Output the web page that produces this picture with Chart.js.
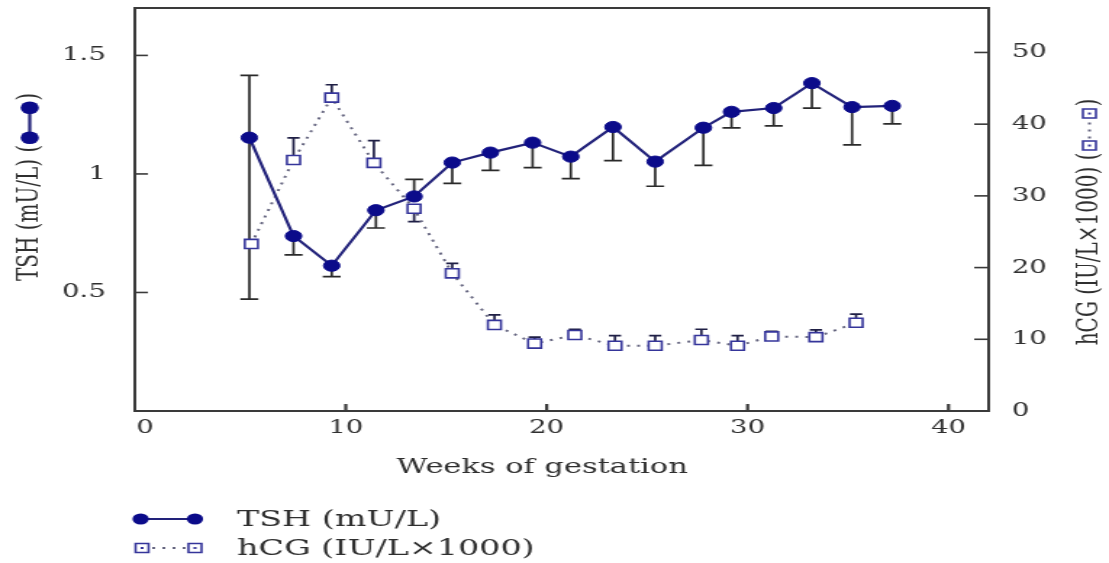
<!DOCTYPE html>
<html><head><meta charset="utf-8">
<script src="https://cdn.jsdelivr.net/npm/chart.js@4.4.0/dist/chart.umd.min.js"></script>
<style>
html,body{margin:0;padding:0;background:#fff;overflow:hidden;}
#c{display:block;}
</style></head><body>
<canvas id="c" width="765" height="563" style="width:1109px;height:563px"></canvas>
<script>
// ---- data ----
const tshWeeks  = [5.2, 7.4, 9.3, 11.5, 13.4, 15.3, 17.2, 19.3, 21.2, 23.3, 25.4, 27.8, 29.2, 31.3, 33.2, 35.2, 37.2];
const tshValues = [1.153, 0.738, 0.613, 0.847, 0.905, 1.048, 1.09, 1.132, 1.073, 1.198, 1.052, 1.195, 1.262, 1.278, 1.383, 1.282, 1.287];
const tshLower  = [0.472, 0.659, 0.567, 0.772, null, 0.96, 1.015, 1.027, 0.98, 1.056, 0.948, 1.036, 1.194, 1.203, 1.278, 1.123, 1.211];
const tshUpper  = [1.416, null, null, null, 0.977, null, null, null, null, null, null, null, null, null, null, null, null];

const hcgWeeks  = [5.3, 7.4, 9.3, 11.4, 13.4, 15.3, 17.4, 19.4, 21.4, 23.4, 25.4, 27.7, 29.5, 31.2, 33.4, 35.4];
const hcgValues = [23.3, 35.0, 43.7, 34.6, 28.2, 19.2, 12.0, 9.4, 10.6, 9.1, 9.1, 9.9, 9.1, 10.4, 10.3, 12.3];
const hcgUpper  = [null, 38.1, 45.5, 37.7, null, 20.6, 13.4, 10.3, 11.4, 10.5, 10.5, 11.4, 10.5, 11.1, 11.3, 13.5];
const hcgLower  = [null, null, null, null, 26.4, null, null, null, null, null, null, null, null, null, null, null];

const xTickValues    = [0, 10, 20, 30, 40];
const tshTickValues  = [0.5, 1, 1.5];
const hcgTickValues  = [0, 10, 20, 30, 40, 50];

const tshLabel = 'TSH (mU/L)';
const hcgLabel = 'hCG (IU/L\u00d71000)';
const xTitle   = 'Weeks of gestation';

// ---- styles ----
const FONT = "'DejaVu Serif', serif";
const TEXT = '#2f2f2f';
const AXIS = '#3a3a3a';
const TSH_FILL = '#0b0b8a';
const TSH_LINE = '#22227a';
const HCG_EDGE = '#35359a';
const HCG_LINE = '#666680';

Chart.defaults.font.family = FONT;
Chart.defaults.color = TEXT;

function drawTshSymbol(ctx, x0, x1, y, r) {
  ctx.save();
  ctx.strokeStyle = TSH_LINE; ctx.lineWidth = 2.2;
  ctx.beginPath(); ctx.moveTo(x0, y); ctx.lineTo(x1, y); ctx.stroke();
  ctx.fillStyle = TSH_FILL;
  [x0, x1].forEach(px => { ctx.beginPath(); ctx.arc(px, y, r, 0, Math.PI * 2); ctx.fill(); });
  ctx.restore();
}
function drawHcgSymbol(ctx, x0, x1, y, h) {
  ctx.save();
  ctx.strokeStyle = HCG_LINE; ctx.lineWidth = 2; ctx.setLineDash([2, 5]);
  ctx.beginPath(); ctx.moveTo(x0, y); ctx.lineTo(x1, y); ctx.stroke();
  ctx.setLineDash([]);
  ctx.strokeStyle = HCG_EDGE; ctx.lineWidth = 1.6; ctx.fillStyle = '#fff';
  [x0, x1].forEach(px => { ctx.beginPath(); ctx.rect(px - h, y - h, 2 * h, 2 * h); ctx.fill(); ctx.stroke(); });
  ctx.fillStyle = HCG_EDGE;
  [x0, x1].forEach(px => { ctx.fillRect(px - 1, y - 1, 2, 2); });
  ctx.restore();
}

const errorBars = {
  id: 'errorBars',
  beforeDatasetsDraw(chart) {
    const {ctx, scales} = chart;
    const sets = [
      {w: tshWeeks, v: tshValues, bounds: [tshLower, tshUpper], axis: scales.y, half: 6.2, color: '#2a2a2a'},
      {w: hcgWeeks, v: hcgValues, bounds: [hcgLower, hcgUpper], axis: scales.y1, half: 4.2, color: '#1f1f45'}
    ];
    ctx.save();
    ctx.lineWidth = 1.7;
    sets.forEach(s => {
      ctx.strokeStyle = s.color;
      s.w.forEach((wk, i) => {
        const px = scales.x.getPixelForValue(wk);
        const p0 = s.axis.getPixelForValue(s.v[i]);
        s.bounds.forEach(arr => {
          if (arr[i] == null) return;
          const p1 = s.axis.getPixelForValue(arr[i]);
          ctx.beginPath();
          ctx.moveTo(px, p0); ctx.lineTo(px, p1);
          ctx.moveTo(px - s.half, p1); ctx.lineTo(px + s.half, p1);
          ctx.stroke();
        });
      });
    });
    ctx.restore();
  }
};

const decorations = {
  id: 'decorations',
  afterDraw(chart) {
    const {ctx, chartArea: a, scales} = chart;
    ctx.save();
    // top frame line
    ctx.strokeStyle = AXIS; ctx.lineWidth = 2;
    ctx.beginPath(); ctx.moveTo(a.left - 1, a.top); ctx.lineTo(a.right + 1, a.top); ctx.stroke();
    // inward tick marks
    ctx.lineWidth = 1.6;
    scales.y.ticks.forEach(t => {
      if (t.value === 0) return;
      const py = scales.y.getPixelForValue(t.value);
      ctx.beginPath(); ctx.moveTo(a.left, py); ctx.lineTo(a.left + 9, py); ctx.stroke();
    });
    scales.y1.ticks.forEach(t => {
      if (t.value === 0) return;
      const py = scales.y1.getPixelForValue(t.value);
      ctx.beginPath(); ctx.moveTo(a.right, py); ctx.lineTo(a.right - 10, py); ctx.stroke();
    });
    ctx.lineWidth = 2.2;
    scales.x.ticks.forEach(t => {
      if (t.value === 0) return;
      const px = scales.x.getPixelForValue(t.value);
      ctx.beginPath(); ctx.moveTo(px, a.bottom); ctx.lineTo(px, a.bottom - 7); ctx.stroke();
    });

    // x axis title
    ctx.fillStyle = TEXT;
    ctx.font = "21px " + FONT;
    ctx.textAlign = 'center'; ctx.textBaseline = 'middle';
    ctx.fillText(xTitle, 374, 468);

    // left axis title (rotated) with symbol
    ctx.font = "20px " + FONT;
    ctx.textAlign = 'left';
    {
      const p1 = tshLabel + ' (', p2 = ')';
      const w1 = ctx.measureText(p1).width, w2 = ctx.measureText(p2).width;
      const sym = 44;
      const L = w1 + sym + w2;
      ctx.save();
      ctx.translate(20.5, 187);
      ctx.rotate(-Math.PI / 2);
      let s = -L / 2;
      ctx.fillText(p1, s, 0);
      drawTshSymbol(ctx, s + w1 + 7, s + w1 + 37, 0, 6.3);
      ctx.fillText(p2, s + w1 + sym, 0);
      ctx.restore();
    }
    // right axis title (rotated) with symbol
    {
      const p1 = hcgLabel + ' (', p2 = ')';
      const w1 = ctx.measureText(p1).width, w2 = ctx.measureText(p2).width;
      const sym = 46;
      const L = w1 + sym + w2;
      ctx.save();
      ctx.translate(751.5, 222);
      ctx.rotate(-Math.PI / 2);
      let s = -L / 2;
      ctx.fillText(p1, s, 0);
      drawHcgSymbol(ctx, s + w1 + 7, s + w1 + 39, 0, 4.5);
      ctx.fillText(p2, s + w1 + sym, 0);
      ctx.restore();
    }

    // legend
    drawTshSymbol(ctx, 97, 134.5, 519, 5.6);
    drawHcgSymbol(ctx, 98, 134.5, 548, 4.5);
    ctx.fillStyle = TEXT;
    ctx.font = "23px " + FONT;
    ctx.textAlign = 'left'; ctx.textBaseline = 'middle';
    ctx.fillText(tshLabel, 163.5, 520);
    ctx.fillText(hcgLabel, 163.5, 549);
    ctx.restore();
  }
};

function noPad(s) { s.paddingTop = 0; s.paddingBottom = 0; s.paddingLeft = 0; s.paddingRight = 0; }

new Chart(document.getElementById('c'), {
  type: 'line',
  data: {
    datasets: [
      {
        label: tshLabel,
        data: tshWeeks.map((w, i) => ({x: w, y: tshValues[i]})),
        yAxisID: 'y',
        borderColor: TSH_LINE,
        borderWidth: 2.2,
        backgroundColor: TSH_FILL,
        pointBackgroundColor: TSH_FILL,
        pointBorderColor: TSH_FILL,
        pointBorderWidth: 1,
        pointStyle: 'circle',
        pointRadius: 5.6,
        tension: 0
      },
      {
        label: hcgLabel,
        data: hcgWeeks.map((w, i) => ({x: w, y: hcgValues[i]})),
        yAxisID: 'y1',
        borderColor: HCG_LINE,
        borderWidth: 2,
        borderDash: [2, 5],
        pointStyle: 'rect',
        pointRadius: 6.4,
        pointBackgroundColor: '#ffffff',
        pointBorderColor: HCG_EDGE,
        pointBorderWidth: 1.6,
        tension: 0
      }
    ]
  },
  options: {
    responsive: false,
    animation: false,
    devicePixelRatio: 1,
    events: [],
    layout: {padding: {top: 8, left: 0, right: 0, bottom: 0}},
    plugins: {legend: {display: false}, tooltip: {enabled: false}},
    scales: {
      x: {
        type: 'linear',
        min: -0.5, max: 42,
        afterBuildTicks: s => { s.ticks = xTickValues.map(v => ({value: v})); },
        ticks: {padding: 6, font: {size: 19}, color: TEXT},
        grid: {display: false, drawTicks: false},
        border: {display: true, color: AXIS, width: 2},
        afterFit: s => { s.height = 152; noPad(s); }
      },
      y: {
        position: 'left',
        min: 0, max: 1.7,
        afterBuildTicks: s => { s.ticks = [0].concat(tshTickValues).map(v => ({value: v})); },
        ticks: {padding: 20, font: {size: 19}, color: TEXT, callback: v => (v === 0 ? '' : String(v))},
        grid: {display: false, drawTicks: false},
        border: {display: true, color: AXIS, width: 2},
        afterFit: s => { s.width = 93; noPad(s); }
      },
      y1: {
        position: 'right',
        min: 0, max: 56.2,
        afterBuildTicks: s => { s.ticks = hcgTickValues.map(v => ({value: v})); },
        ticks: {padding: 16, font: {size: 19}, color: TEXT},
        grid: {display: false, drawTicks: false},
        border: {display: true, color: AXIS, width: 2},
        afterFit: s => { s.width = 83; noPad(s); }
      }
    }
  },
  plugins: [errorBars, decorations]
});
</script>
</body></html>
